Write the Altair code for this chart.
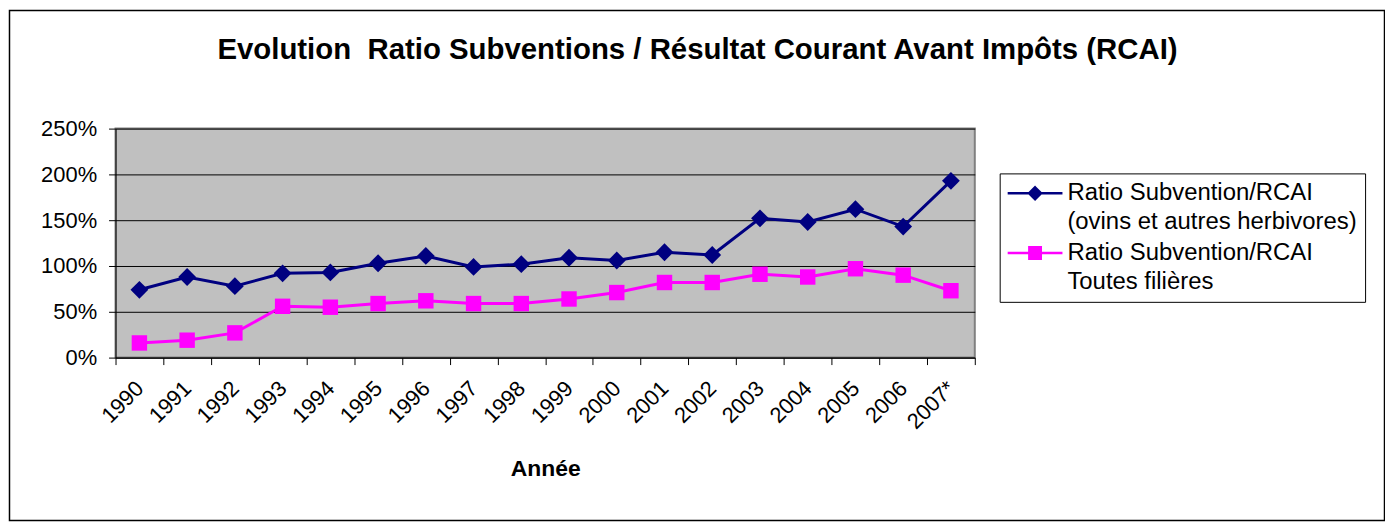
import altair as alt
import pandas as pd

years = ["1990", "1991", "1992", "1993", "1994", "1995", "1996", "1997", "1998",
         "1999", "2000", "2001", "2002", "2003", "2004", "2005", "2006", "2007*"]
ovins = [74, 88, 78, 92, 93, 103, 111, 99, 102, 109, 106, 115, 112, 152, 148, 162, 143, 193]
toutes = [16, 19, 27, 56, 55, 59, 62, 59, 59, 64, 71, 82, 82, 91, 88, 97, 90, 73]

s1 = "Ratio Subvention/RCAI|(ovins et autres herbivores)"
s2 = "Ratio Subvention/RCAI|Toutes filières"
series_names = [s1, s2]
series_colors = ["#000080", "#FF00FF"]
legend_paths = [
    "M-1.71,0H6.15M2.22,-0.857L3.077,0L2.22,0.857L1.363,0Z",
    "M-1.71,0H6.15M1.40,-0.82H3.04V0.82H1.40Z",
]

rows = []
for y, a, b in zip(years, ovins, toutes):
    rows.append({"annee": y, "serie": s1, "valeur": a})
    rows.append({"annee": y, "serie": s2, "valeur": b})
df = pd.DataFrame(rows)

FONT = "Liberation Sans"

x_enc = alt.X(
    "annee:N", sort=years, title="Année",
    scale=alt.Scale(paddingInner=0, paddingOuter=0),
    axis=alt.Axis(labelAngle=-45, labelAlign="right", labelBaseline="middle",
                  labelFontSize=22, labelPadding=20, tickBand="extent",
                  tickSize=7, tickColor="black", domainColor="black",
                  titleFontSize=23, titleFontWeight="bold", titlePadding=25,
                  labelColor="black", titleColor="black", grid=False),
)
y_enc = alt.Y(
    "valeur:Q", title=None,
    scale=alt.Scale(domain=[0, 250], nice=False),
    axis=alt.Axis(values=[0, 50, 100, 150, 200, 250], labelExpr="datum.value + '%'",
                  labelFontSize=22, labelPadding=12, tickSize=7, tickColor="black",
                  domainColor="black", gridColor="black", gridWidth=1,
                  labelColor="black"),
)

base = alt.Chart(df)

layers = []
for name, col, shp, sz in [(s1, series_colors[0], "diamond", 320),
                           (s2, series_colors[1], "square", 240)]:
    sub = base.transform_filter(alt.datum.serie == name)
    layers.append(sub.mark_line(strokeWidth=3, color=col).encode(x=x_enc, y=y_enc))
    layers.append(sub.mark_point(shape=shp, filled=True, size=sz, opacity=1, color=col)
                  .encode(x=x_enc, y=y_enc))

leg = alt.Legend(
    title=None, orient="none", legendX=888, legendY=45,
    labelExpr="split(datum.label, '|')", labelFontSize=24, labelColor="black",
    labelLimit=400, labelOffset=36, symbolSize=196, symbolStrokeWidth=2.5,
    symbolOpacity=1, strokeColor="black", fillColor="white", padding=8,
    rowPadding=7, labelBaseline="middle",
)
legend_layer = base.transform_filter("false").mark_point(
    filled=True, size=196, strokeWidth=2.5
).encode(
    x=x_enc, y=y_enc,
    color=alt.Color("serie:N", scale=alt.Scale(domain=series_names, range=series_colors), legend=leg),
    stroke=alt.Stroke("serie:N", scale=alt.Scale(domain=series_names, range=series_colors), legend=leg),
    shape=alt.Shape("serie:N", scale=alt.Scale(domain=series_names, range=legend_paths), legend=leg),
)

frame = alt.Chart(pd.DataFrame({"k": [0]})).mark_rect(
    fill=None, stroke="black", strokeWidth=1.5
).encode(
    x=alt.value(-106.5), x2=alt.value(1274.5), y=alt.value(-118.5), y2=alt.value(393.5)
)

chart = alt.layer(frame, *layers, legend_layer).properties(
    width=863, height=230,
    autosize=alt.AutoSizeParams(type="none"),
    padding={"left": 108, "top": 120, "right": 412, "bottom": 165},
    title=alt.TitleParams(
        "Evolution\u00a0 Ratio Subventions / Résultat Courant Avant Impôts (RCAI)",
        fontSize=29.5, fontWeight="bold", font=FONT, color="black",
        anchor="middle", frame="group", dx=153, offset=0, dy=79,
        baseline="alphabetic",
    ),
).configure(
    font=FONT, style={"guide-label": {"lineHeight": 29}}
).configure_view(
    fill="#C0C0C0", stroke="#808080", strokeWidth=2
).configure_axis(labelFont=FONT, titleFont=FONT).configure_legend(
    labelFont=FONT
)

chart.save("out.html", embed_options={"renderer": "svg", "actions": False})
